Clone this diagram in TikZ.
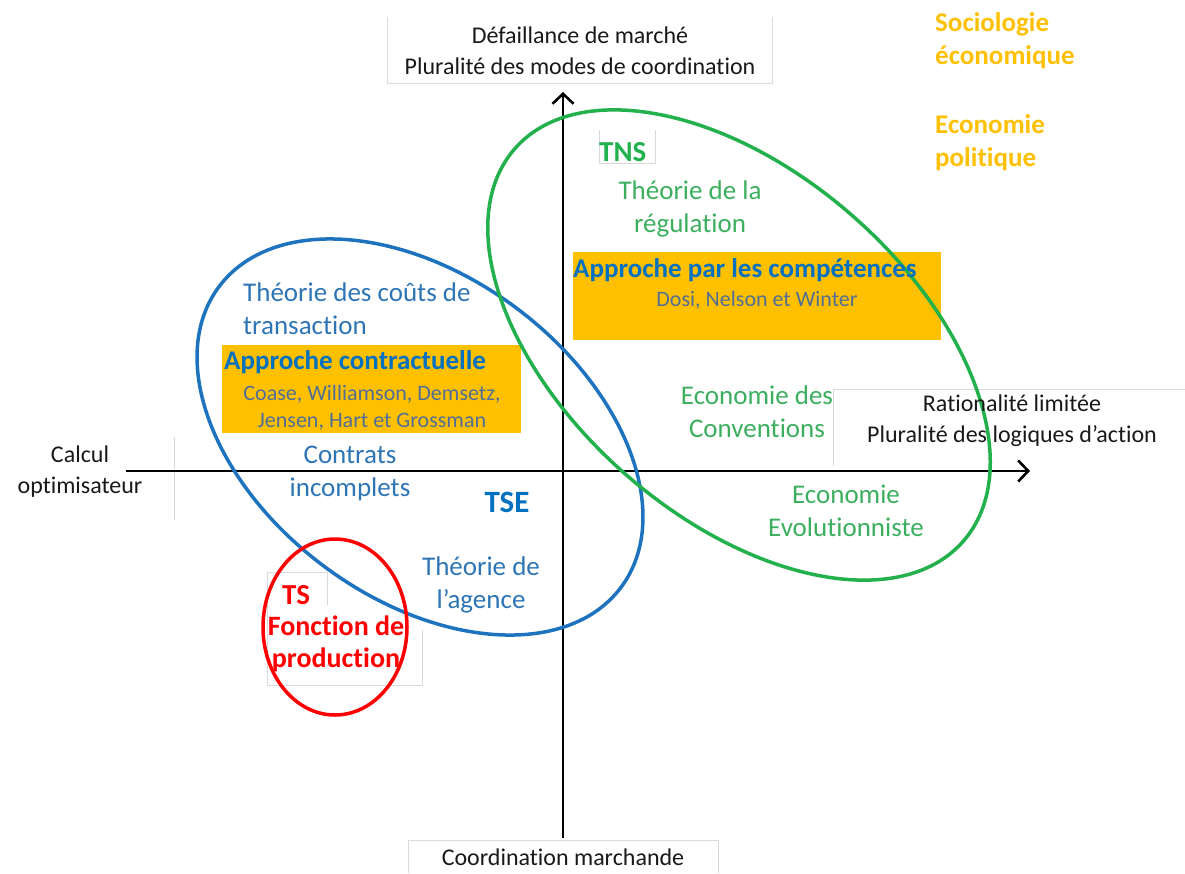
\documentclass[tikz,border=0pt]{standalone}
\usepackage{fontspec}
\setmainfont{Carlito}[Ligatures={NoCommon}]
\usetikzlibrary{arrows.meta}
\definecolor{oblue}{RGB}{0,112,192}
\definecolor{lblue}{RGB}{46,117,182}
\definecolor{ebluec}{RGB}{30,115,190}
\definecolor{egreenc}{RGB}{34,177,76}
\definecolor{tgreen}{RGB}{60,175,95}
\definecolor{oorange}{RGB}{255,192,0}
\definecolor{gline}{RGB}{218,218,218}
\definecolor{namec}{RGB}{80,110,150}
\tikzset{
  axis/.style={line width=2.6pt, black, -{Straight Barb[length=10pt,width=21pt,line width=2.6pt]}},
  faint/.style={line width=0.8pt, gline},
  axlab/.style={font=\fontsize{24}{31}\selectfont, align=center, inner sep=0pt, text=black!90},
  body/.style={font=\fontsize{27}{33}\selectfont, align=center, inner sep=0pt},
  bodyb/.style={font=\bfseries\fontsize{27}{33}\selectfont, align=center, inner sep=0pt},
  names/.style={font=\fontsize{22}{27}\selectfont, align=center, inner sep=0pt, text=namec},
  obox/.style={fill=oorange, draw=none, inner sep=0pt},
  ell/.style={line width=3.5pt}
}
\begin{document}
\begin{tikzpicture}[x=1pt,y=-1pt]
\useasboundingbox (0,0) rectangle (1185,873);
% faint frame lines
\draw[faint] (387,17) -- (387,83) -- (772,83) -- (772,17);
\draw[faint] (174,437) -- (174,520);
\draw[faint] (1185,389) -- (833,389) -- (833,466);
\draw[faint] (408,873) -- (408,840) -- (718,840) -- (718,873);
\draw[faint] (267,572) -- (267,685) -- (422,685) -- (422,630);
\draw[faint] (267,572) -- (327,572) -- (327,605);
\draw[faint] (599,130) -- (599,163) -- (655,163) -- (655,130);
% orange boxes
\node[obox, minimum width=368pt, minimum height=88pt] (boxB) at (757,296) {};
\node[obox, minimum width=299pt, minimum height=88pt] (boxA) at (371.5,389) {};
% axes
\coordinate (xs) at (126,471);
\coordinate (xe) at (1030,471);
\coordinate (ys) at (563,838);
\coordinate (ye) at (563,92);
\draw[axis] (xs) -- (xe);
\draw[axis] (ys) -- (ye);
% ellipses
\draw[ell, ebluec, rotate around={-36.8:(420,437)}] (420,437) ellipse [x radius=251pt, y radius=161pt];
\draw[ell, egreenc, rotate around={-41.2:(739,345)}] (739,345) ellipse [x radius=298pt, y radius=172pt];
\draw[ell, red] (335,627) ellipse [x radius=72pt, y radius=88pt];
% axis labels
\node[axlab] (top) at (580,50.5) {Défaillance de marché\\Pluralité des modes de coordination};
\node[axlab] (calc) at (80,471.5) {Calcul\\optimisateur};
\node[axlab] (rat) at (1012,421) {Rationalité limitée\\Pluralité des logiques d’action};
\node[axlab] (coord) at (563,857) {Coordination marchande};
% orange side labels
\node[bodyb, text=oorange, align=left, anchor=west] (socio) at (935,40.5) {Sociologie\\économique};
\node[bodyb, text=oorange, align=left, anchor=west] (ecopol) at (935,142.5) {Economie\\politique};
% TNS region
\node[bodyb, text=egreenc, anchor=west, font=\bfseries\fontsize{29}{33}\selectfont] (tns) at (599,152) {TNS};
\node[body, text=tgreen] (regul) at (690,209) {Théorie de la\\régulation};
\node[bodyb, text=oblue, anchor=west] (apcomp) at (573,270) {Approche par les compétences};
\node[names] (dosi) at (757,300) {Dosi, Nelson et Winter};
\node[body, text=tgreen] (conv) at (757,412) {Economie des\\Conventions};
\node[body, text=tgreen] (evol) at (846,510.5) {Economie\\Evolutionniste};
% TSE region
\node[body, text=lblue, align=left, anchor=west] (tct) at (243,308.5) {Théorie des coûts de\\transaction};
\node[bodyb, text=oblue, anchor=west] (apcont) at (224,362) {Approche contractuelle};
\node[names] (coase) at (372,407.5) {Coase, Williamson, Demsetz,\\Jensen, Hart et Grossman};
\node[body, text=lblue] (contr) at (350,473) {Contrats\\incomplets};
\node[bodyb, text=oblue, font=\bfseries\fontsize{31}{33}\selectfont] (tse) at (507,502) {TSE};
\node[body, text=lblue] (agence) at (481,584.5) {Théorie de\\l’agence};
% TS region
\node[bodyb, text=red, anchor=west, font=\bfseries\fontsize{29}{33}\selectfont] (ts) at (282,595) {TS};
\node[bodyb, text=red, font=\bfseries\fontsize{28}{32}\selectfont] (fonc) at (336,644) {Fonction de\\production};
\end{tikzpicture}
\end{document}
